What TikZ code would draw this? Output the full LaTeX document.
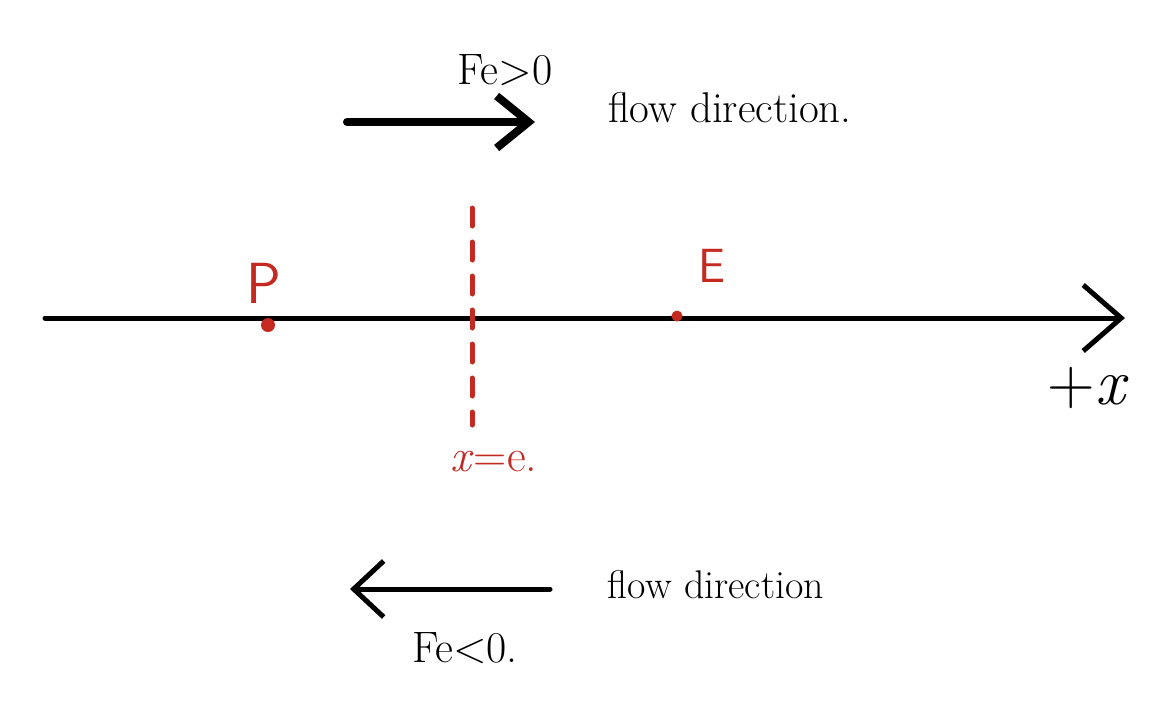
\documentclass[tikz,border=0pt]{standalone}
\usepackage{fontspec}
\usetikzlibrary{arrows.meta}
\definecolor{pen}{RGB}{0,0,0}
\definecolor{redpen}{RGB}{196,42,34}
\begin{document}
\begin{tikzpicture}[x=1pt,y=-1pt,
  txt/.style={inner sep=0pt,anchor=center},
  axisline/.style={line width=5pt,pen,line cap=round},
  flowarrow/.style={line cap=round,line join=round,pen},
  reddash/.style={line width=5pt,redpen,dash pattern=on 18pt off 16pt,line cap=round},
  reddot/.style={fill=redpen,draw=none}]
\useasboundingbox (0,0) rectangle (1156,702);
% x axis
\coordinate (a0) at (45,318);
\coordinate (a1) at (1125,318);
\draw[axisline,-{Straight Barb[length=38pt,width=66pt,line width=5pt]}] (a0) -- (a1);
\node[txt,font=\fontsize{66}{66}\selectfont] (px) at (1088,388) {+\textit{x}};
% points
\coordinate (P) at (268,325);
\coordinate (E) at (677,316);
\fill[reddot] (P) circle (7pt);
\fill[reddot] (E) circle (5.5pt);
\node[txt,redpen,font=\fontsize{58}{58}\selectfont\sffamily] (Plab) at (264,283) {P};
\node[txt,redpen,font=\fontsize{48}{48}\selectfont\sffamily] (Elab) at (712,266) {E};
% dashed line x = e
\coordinate (d0) at (472,208);
\coordinate (d1) at (472,425);
\draw[reddash] (d0) -- (d1);
\node[txt,redpen,font=\fontsize{46}{46}\selectfont] (xe) at (494,462) {\textit{x}=e.};
% top flow arrow
\coordinate (t0) at (347,122);
\coordinate (t1) at (535,122);
\draw[flowarrow,line width=8pt,-{Straight Barb[length=32pt,width=52pt,line width=8pt]}] (t0) -- (t1);
\node[txt,font=\fontsize{44}{44}\selectfont] (fpos) at (505,70) {Fe>0};
\node[txt,font=\fontsize{43}{43}\selectfont] (flow1) at (730,108) {flow direction.};
% bottom flow arrow
\coordinate (b0) at (550,589);
\coordinate (b1) at (350,589);
\draw[flowarrow,line width=5pt,-{Straight Barb[length=30pt,width=56pt,line width=5pt]}] (b0) -- (b1);
\node[txt,font=\fontsize{44}{44}\selectfont] (fneg) at (465,648) {Fe<0.};
\node[txt,font=\fontsize{40}{40}\selectfont] (flow2) at (716,585) {flow direction};
\end{tikzpicture}
\end{document}
